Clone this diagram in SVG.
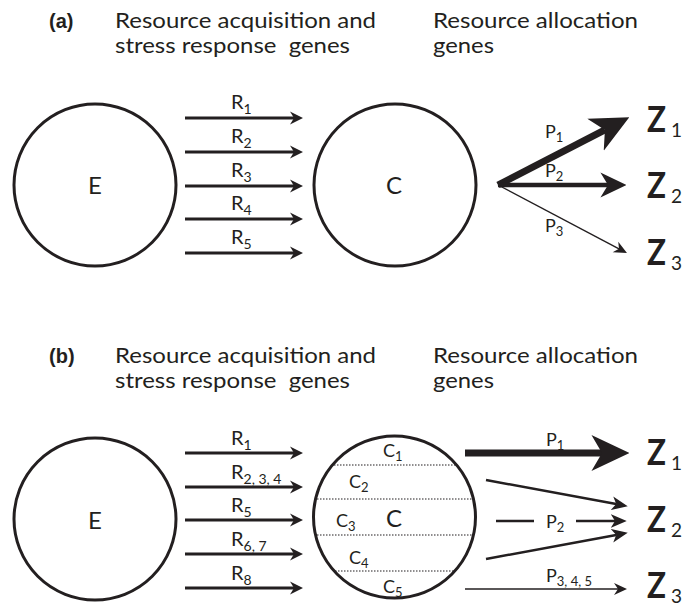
<svg xmlns="http://www.w3.org/2000/svg" width="689" height="606" viewBox="0 0 689 606">
  <style>
    text { font-family: Lato, "Open Sans", "Liberation Sans", sans-serif; fill: #231f20; white-space: pre; }
    .hdr { font-size: 20.5px; }
    .tag { font-size: 20px; font-weight: bold; font-family: "Liberation Sans", Arial, sans-serif; }
    .big { font-size: 24px; }
    .lbl { font-size: 20px; }
    .sub { font-size: 14px; }
    .clbl { font-size: 18px; }
    .csub { font-size: 13px; }
    .z { font-size: 37px; font-weight: bold; }
    .zs { font-size: 19px; }
    .node { fill: none; stroke: #231f20; stroke-width: 3; }
    .div { stroke: #231f20; stroke-width: 1.2; stroke-dasharray: 1.5 1.5; fill: none; }
    .r { stroke: #231f20; stroke-width: 3; fill: none; marker-end: url(#hR); }
    .mid { stroke: #231f20; stroke-width: 2.5; fill: none; marker-end: url(#hM); }
    .thin { stroke: #231f20; stroke-width: 1.4; fill: none; marker-end: url(#hT); }
    .thick { stroke: #231f20; stroke-width: 7; fill: none; marker-end: url(#hX); }
    .med { stroke: #231f20; stroke-width: 4.5; fill: none; marker-end: url(#hL); }
  </style>
  <defs>
    <!-- notched arrowheads; refX sits on the notch so the shaft ends there -->
    <marker id="hR" markerUnits="userSpaceOnUse" markerWidth="14" markerHeight="14" viewBox="0 -7 13 14" refX="4" refY="0" orient="auto">
      <path d="M0,-6.5 L13,0 L0,6.5 L4,0 Z" fill="#231f20"/>
    </marker>
    <marker id="hM" markerUnits="userSpaceOnUse" markerWidth="16" markerHeight="16" viewBox="0 -7 15 14" refX="4" refY="0" orient="auto">
      <path d="M0,-6.5 L15,0 L0,6.5 L4,0 Z" fill="#231f20"/>
    </marker>
    <marker id="hT" markerUnits="userSpaceOnUse" markerWidth="14" markerHeight="14" viewBox="0 -7 13 14" refX="4" refY="0" orient="auto">
      <path d="M0,-6 L13,0 L0,6 L4,0 Z" fill="#231f20"/>
    </marker>
    <marker id="hL" markerUnits="userSpaceOnUse" markerWidth="26" markerHeight="26" viewBox="0 -12 24 24" refX="7" refY="0" orient="auto">
      <path d="M0,-11.5 L24,0 L0,11.5 L7,0 Z" fill="#231f20"/>
    </marker>
    <marker id="hX" markerUnits="userSpaceOnUse" markerWidth="38" markerHeight="38" viewBox="0 -18 36 36" refX="10" refY="0" orient="auto">
      <path d="M0,-17 L36,0 L0,17 L10,0 Z" fill="#231f20"/>
    </marker>
  </defs>

  <!-- ===== panel (a) ===== -->
  <g id="header-a">
    <text class="tag" x="49" y="28">(a)</text>
    <text class="hdr" x="115" y="28" textLength="261" lengthAdjust="spacingAndGlyphs">Resource acquisition and</text>
    <text class="hdr" x="115" y="53" textLength="235" lengthAdjust="spacingAndGlyphs">stress response  genes</text>
    <text class="hdr" x="433" y="28" textLength="205" lengthAdjust="spacingAndGlyphs">Resource allocation</text>
    <text class="hdr" x="433" y="53" textLength="61" lengthAdjust="spacingAndGlyphs">genes</text>
  </g>

  <g id="a-E">
    <circle class="node" cx="95" cy="185" r="81"/>
    <text class="big" x="95" y="194" text-anchor="middle">E</text>
  </g>
  <g id="a-C">
    <circle class="node" cx="395" cy="185" r="81"/>
    <text class="big" x="394" y="194" text-anchor="middle">C</text>
  </g>
  <g id="a-Z1"><text class="z" x="647" y="132" textLength="19" lengthAdjust="spacingAndGlyphs">Z</text><text class="zs" x="671" y="137">1</text></g>
  <g id="a-Z2"><text class="z" x="647" y="198" textLength="19" lengthAdjust="spacingAndGlyphs">Z</text><text class="zs" x="671" y="203">2</text></g>
  <g id="a-Z3"><text class="z" x="647" y="265" textLength="19" lengthAdjust="spacingAndGlyphs">Z</text><text class="zs" x="671" y="270">3</text></g>

  <g id="a-connectors">
    <path class="r" d="M185,118 H294"/>
    <path class="r" d="M185,152 H294"/>
    <path class="r" d="M185,186 H294"/>
    <path class="r" d="M185,219 H294"/>
    <path class="r" d="M185,253 H294"/>
    <text class="lbl" x="231" y="109">R<tspan class="sub" dy="5">1</tspan></text>
    <text class="lbl" x="231" y="143">R<tspan class="sub" dy="5">2</tspan></text>
    <text class="lbl" x="231" y="177">R<tspan class="sub" dy="5">3</tspan></text>
    <text class="lbl" x="231" y="210">R<tspan class="sub" dy="5">4</tspan></text>
    <text class="lbl" x="231" y="244">R<tspan class="sub" dy="5">5</tspan></text>

    <path class="thick" d="M498,185 L604.9,129.9"/>
    <path class="med" d="M498,185 H608"/>
    <path class="thin" d="M498,185 L619,248.8"/>
    <text class="clbl" x="545" y="138">P<tspan class="csub" dy="4">1</tspan></text>
    <text class="clbl" x="545" y="177">P<tspan class="csub" dy="4">2</tspan></text>
    <text class="clbl" x="545" y="232">P<tspan class="csub" dy="4">3</tspan></text>
  </g>

  <!-- ===== panel (b) ===== -->
  <g id="header-b">
    <text class="tag" x="49" y="363">(b)</text>
    <text class="hdr" x="115" y="363" textLength="261" lengthAdjust="spacingAndGlyphs">Resource acquisition and</text>
    <text class="hdr" x="115" y="388" textLength="235" lengthAdjust="spacingAndGlyphs">stress response  genes</text>
    <text class="hdr" x="433" y="363" textLength="205" lengthAdjust="spacingAndGlyphs">Resource allocation</text>
    <text class="hdr" x="433" y="388" textLength="61" lengthAdjust="spacingAndGlyphs">genes</text>
  </g>

  <g id="b-E">
    <circle class="node" cx="95" cy="519" r="81"/>
    <text class="big" x="95" y="529" text-anchor="middle">E</text>
  </g>
  <g id="b-C">
    <circle class="node" cx="394.5" cy="517" r="81"/>
    <path class="div" d="M334,465 H455 M317,499 H472 M317,535 H472 M335,571 H454"/>
    <text class="big" x="394" y="527" text-anchor="middle">C</text>
    <text class="clbl" x="383" y="457">C<tspan class="csub" dy="4">1</tspan></text>
    <text class="clbl" x="349" y="488">C<tspan class="csub" dy="4">2</tspan></text>
    <text class="clbl" x="336" y="527">C<tspan class="csub" dy="4">3</tspan></text>
    <text class="clbl" x="349" y="564">C<tspan class="csub" dy="4">4</tspan></text>
    <text class="clbl" x="383" y="593">C<tspan class="csub" dy="4">5</tspan></text>
  </g>
  <g id="b-Z1"><text class="z" x="647" y="465" textLength="19" lengthAdjust="spacingAndGlyphs">Z</text><text class="zs" x="671" y="470">1</text></g>
  <g id="b-Z2"><text class="z" x="647" y="532" textLength="19" lengthAdjust="spacingAndGlyphs">Z</text><text class="zs" x="671" y="537">2</text></g>
  <g id="b-Z3"><text class="z" x="647" y="598" textLength="19" lengthAdjust="spacingAndGlyphs">Z</text><text class="zs" x="671" y="603">3</text></g>

  <g id="b-connectors">
    <path class="r" d="M185,453 H294"/>
    <path class="r" d="M185,487 H294"/>
    <path class="r" d="M185,520 H294"/>
    <path class="r" d="M185,554 H294"/>
    <path class="r" d="M185,588 H294"/>
    <text class="lbl" x="231" y="445">R<tspan class="sub" dy="5">1</tspan></text>
    <text class="lbl" x="231" y="479">R<tspan class="sub" dy="5">2, 3, 4</tspan></text>
    <text class="lbl" x="231" y="512">R<tspan class="sub" dy="5">5</tspan></text>
    <text class="lbl" x="231" y="546">R<tspan class="sub" dy="5">6, 7</tspan></text>
    <text class="lbl" x="231" y="580">R<tspan class="sub" dy="5">8</tspan></text>

    <path class="thick" d="M465,453 H602"/>
    <path class="mid" d="M486,480 L616.2,504"/>
    <path class="mid" d="M486,559 L616.2,535"/>
    <path d="M496,521 H534" stroke="#231f20" stroke-width="2.5" fill="none"/>
    <path class="mid" d="M576,521 H615"/>
    <path class="thin" d="M465,589 H618"/>
    <text class="clbl" x="546" y="446">P<tspan class="csub" dy="4">1</tspan></text>
    <text class="clbl" x="546" y="528">P<tspan class="csub" dy="4">2</tspan></text>
    <text class="clbl" x="546" y="582">P<tspan class="csub" dy="4">3, 4, 5</tspan></text>
  </g>
</svg>
